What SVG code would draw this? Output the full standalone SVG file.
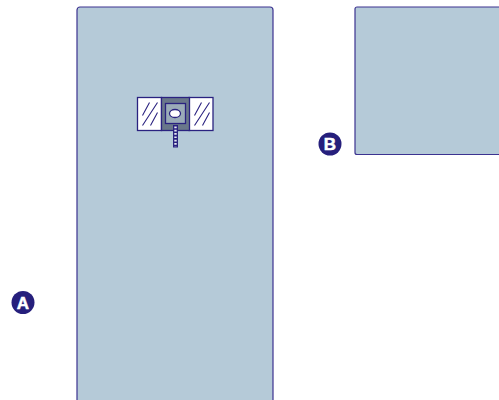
<svg xmlns="http://www.w3.org/2000/svg" width="499" height="400" viewBox="0 0 499 400">
<style>
.panel{fill:#b5cad8;stroke:#3c3390;stroke-width:1.2}
.ln{fill:none;stroke:#2a2280;stroke-width:1.1}
.win{fill:#fff;stroke:#2a2280;stroke-width:1.3}
.badge{fill:#261f7c}
.lab{font-family:"Liberation Sans",Arial,sans-serif;font-weight:700;font-size:17px;fill:#fff;stroke:#fff;stroke-width:.5;text-anchor:middle}
</style>
<g id="panel-a">
<rect class="panel" x="77" y="7" width="196" height="396" rx="3"/>
</g>
<g id="panel-b">
<rect class="panel" x="355" y="7" width="150" height="147.500" rx="2"/>
</g>
<g id="fixture">
<rect class="win" x="137.500" y="97.500" width="24" height="33"/>
<rect class="win" x="189" y="97.500" width="24" height="33"/>
<path class="ln" d="M142.500 115.500L149.500 102.500M142.500 125.500L157.500 102.500M150.500 125.500L157.500 112.500M194.500 115.500L201.500 102.500M194.500 125.500L209.500 102.500M202.500 125.500L209.500 112.500"/>
<rect x="161.500" y="97.500" width="28" height="33" fill="#69778a" stroke="#2a2280" stroke-width="1.300"/>
<rect x="165.500" y="103.500" width="20" height="20" fill="#9aabb8" stroke="#2a2280" stroke-width="1.300"/>
<ellipse cx="175" cy="113.500" rx="5.500" ry="4" fill="#fff" stroke="#2a2280" stroke-width="1.300"/>
<rect x="173" y="125" width="5" height="22.500" fill="#2a2280"/>
<path d="M175.500 126.500V146.500" fill="none" stroke="#e6e8f2" stroke-width="2.400" stroke-dasharray="1.700 1.600"/>
</g>
<g id="badge-a">
<circle class="badge" cx="23" cy="302.500" r="11.500"/>
<text class="lab" x="23" y="308.500">A</text>
</g>
<g id="badge-b">
<circle class="badge" cx="330" cy="144" r="11.500"/>
<text class="lab" x="330" y="150">B</text>
</g>
</svg>
